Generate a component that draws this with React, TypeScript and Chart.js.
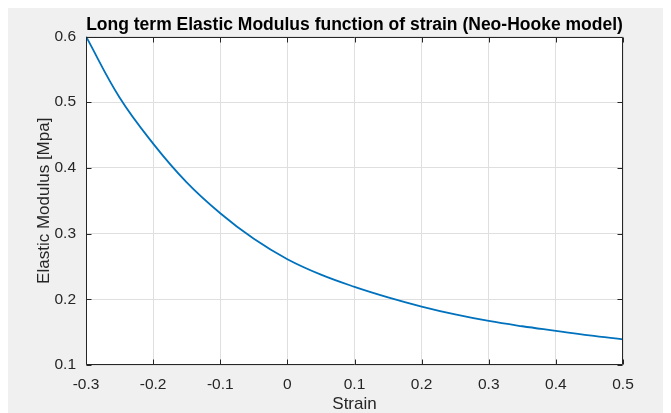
import React, { useEffect, useRef } from "react";
import { Chart, registerables } from "chart.js";

Chart.register(...registerables);

const chartTitle = "Long term Elastic Modulus function of strain (Neo-Hooke model)";
const xAxisTitle = "Strain";
const yAxisTitle = "Elastic Modulus [Mpa]";

const strain = [-0.3, -0.25, -0.2, -0.15, -0.1, -0.05, 0, 0.05, 0.1, 0.15, 0.2, 0.25, 0.3, 0.35, 0.4, 0.45, 0.5];
const modulus = [0.6, 0.507, 0.437, 0.378, 0.331, 0.292, 0.261, 0.2375, 0.219, 0.203, 0.189, 0.177, 0.167, 0.159, 0.152, 0.145, 0.139];

const xTicks = [-0.3, -0.2, -0.1, 0, 0.1, 0.2, 0.3, 0.4, 0.5];
const xTickLabels = ["-0.3", "-0.2", "-0.1", "0", "0.1", "0.2", "0.3", "0.4", "0.5"];
const yTicks = [0.1, 0.2, 0.3, 0.4, 0.5, 0.6];
const yTickLabels = ["0.1", "0.2", "0.3", "0.4", "0.5", "0.6"];

const FONT = "'Liberation Sans', Arial, Helvetica, sans-serif";
const AXIS_COLOR = "#262626";

const boxPlugin = {
  id: "matlabBox",
  beforeDraw(chart: any) {
    const { ctx, chartArea } = chart;
    ctx.save();
    ctx.fillStyle = "#ffffff";
    ctx.fillRect(chartArea.left, chartArea.top, chartArea.right - chartArea.left, chartArea.bottom - chartArea.top);
    ctx.restore();
  },
  afterDraw(chart: any) {
    const { ctx, chartArea } = chart;
    const { left, right, top, bottom } = chartArea;
    const xs = chart.scales.x;
    const ys = chart.scales.y;
    const tl = 5;
    ctx.save();
    ctx.strokeStyle = AXIS_COLOR;
    ctx.lineWidth = 1;
    ctx.beginPath();
    const L = Math.round(left) + 0.5;
    const R = Math.round(right) - 0.5;
    const T = Math.round(top) + 0.5;
    const B = Math.round(bottom) - 0.5;
    ctx.rect(L, T, R - L, B - T);
    xTicks.forEach((v) => {
      const px = Math.round(xs.getPixelForValue(v)) + 0.5;
      ctx.moveTo(px, B);
      ctx.lineTo(px, B - tl);
      ctx.moveTo(px, T);
      ctx.lineTo(px, T + tl);
    });
    yTicks.forEach((v) => {
      const py = Math.round(ys.getPixelForValue(v)) + 0.5;
      ctx.moveTo(L, py);
      ctx.lineTo(L + tl, py);
      ctx.moveTo(R, py);
      ctx.lineTo(R - tl, py);
    });
    ctx.stroke();
    ctx.restore();
  },
};

export default function App() {
  const ref = useRef<HTMLCanvasElement | null>(null);

  useEffect(() => {
    if (!ref.current) return;
    const chart = new Chart(ref.current, {
      type: "line",
      data: {
        datasets: [
          {
            data: strain.map((x, i) => ({ x, y: modulus[i] })),
            borderColor: "#0072BD",
            borderWidth: 1.8,
            pointRadius: 0,
            fill: false,
            tension: 0.4,
          },
        ],
      },
      options: {
        animation: false,
        responsive: false,
        devicePixelRatio: 1,
        layout: { padding: { left: 0, right: 48, top: 0, bottom: 0 } },
        plugins: {
          legend: { display: false },
          tooltip: { enabled: false },
          title: {
            display: true,
            fullSize: false,
            text: chartTitle,
            color: "#000000",
            font: { family: FONT, size: 17.5, weight: "bold", lineHeight: 1 },
            padding: { top: 8.5, bottom: 2.5 },
          },
        },
        scales: {
          x: {
            type: "linear",
            min: -0.3,
            max: 0.5,
            afterBuildTicks: (scale: any) => {
              scale.ticks = xTicks.map((v) => ({ value: v }));
            },
            afterFit: (scale: any) => {
              scale.height = 48;
            },
            ticks: {
              color: AXIS_COLOR,
              font: { family: FONT, size: 15.5 },
              padding: 10,
              maxRotation: 0,
              autoSkip: false,
              callback: (v: any) => {
                const i = xTicks.findIndex((t) => Math.abs(t - Number(v)) < 1e-9);
                return i >= 0 ? xTickLabels[i] : "";
              },
            },
            grid: { color: "#dfdfdf", drawTicks: false, lineWidth: 1 },
            border: { display: false },
            title: {
              display: true,
              text: xAxisTitle,
              color: AXIS_COLOR,
              font: { family: FONT, size: 17, lineHeight: 1 },
              padding: { top: 0, bottom: 0.5 },
            },
          },
          y: {
            type: "linear",
            min: 0.1,
            max: 0.6,
            afterBuildTicks: (scale: any) => {
              scale.ticks = yTicks.map((v) => ({ value: v }));
            },
            afterFit: (scale: any) => {
              scale.width = 78;
            },
            ticks: {
              color: AXIS_COLOR,
              font: { family: FONT, size: 15.5 },
              padding: 10,
              autoSkip: false,
              callback: (v: any) => {
                const i = yTicks.findIndex((t) => Math.abs(t - Number(v)) < 1e-9);
                return i >= 0 ? yTickLabels[i] : "";
              },
            },
            grid: { color: "#dfdfdf", drawTicks: false, lineWidth: 1 },
            border: { display: false },
            title: {
              display: true,
              text: yAxisTitle,
              color: AXIS_COLOR,
              font: { family: FONT, size: 17, lineHeight: 1 },
              padding: { top: 27.5, bottom: 0 },
            },
          },
        },
      },
      plugins: [boxPlugin],
    });
    return () => chart.destroy();
  }, []);

  return (
    <div style={{ width: 663, height: 405, background: "#f0f0f0", position: "relative" }}>
      <canvas ref={ref} width={663} height={405} style={{ display: "block" }} />
    </div>
  );
}
